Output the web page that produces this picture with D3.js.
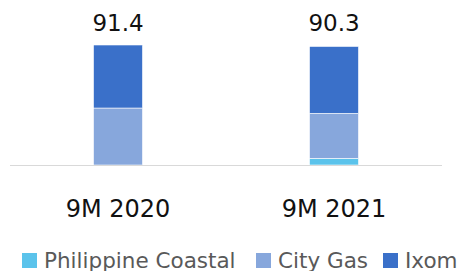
<!DOCTYPE html>
<html>
<head>
<meta charset="utf-8">
<script src="https://cdn.jsdelivr.net/npm/d3@7"></script>
<style>
  html, body { margin: 0; padding: 0; background: #fff; }
  svg { display: block; }
  text { font-family: "DejaVu Sans", sans-serif; }
</style>
</head>
<body>
<svg id="chart" width="457" height="271"></svg>
<script>
const categories = ['9M 2020', '9M 2021'];
const seriesNames = ['Philippine Coastal', 'City Gas', 'Ixom'];
const philippineCoastal = [0, 5.0];
const cityGas = [43.4, 34.3];
const ixom = [48.0, 51.0];
const totals = [91.4, 90.3];

const colors = ['#5bc3eb', '#87a7dc', '#3a70c9'];

const svg = d3.select('#chart');
const baseY = 165;
const left = 10, right = 442;

const rows = categories.map((c, i) => ({
  cat: c,
  'Philippine Coastal': philippineCoastal[i],
  'City Gas': cityGas[i],
  'Ixom': ixom[i],
  total: totals[i]
}));

const x = d3.scaleBand().domain(categories).range([left, right]).padding(0);
const barW = 49;
const y = d3.scaleLinear().domain([0, 91.4]).range([baseY, 45]);

const stack = d3.stack().keys(seriesNames)(rows);

const color = d3.scaleOrdinal().domain(seriesNames).range(colors);

svg.append('g')
  .selectAll('g')
  .data(stack)
  .join('g')
  .attr('fill', (d) => color(d.key))
  .selectAll('rect')
  .data((d) => d)
  .join('rect')
  .attr('x', (d) => x(d.data.cat) + x.bandwidth() / 2 - barW / 2)
  .attr('y', (d) => y(d[1]))
  .attr('width', barW)
  .attr('height', (d) => Math.max(0, y(d[0]) - y(d[1])))
  .attr('stroke', '#fff')
  .attr('stroke-width', 0.6);

// baseline
svg.append('line')
  .attr('x1', left).attr('x2', right)
  .attr('y1', baseY + 0.5).attr('y2', baseY + 0.5)
  .attr('stroke', '#d9d9d9')
  .attr('stroke-width', 1);

// totals
svg.append('g')
  .selectAll('text')
  .data(rows)
  .join('text')
  .attr('x', (d) => x(d.cat) + x.bandwidth() / 2)
  .attr('y', 31)
  .attr('text-anchor', 'middle')
  .attr('font-size', 23)
  .attr('fill', '#111')
  .text((d) => d.total.toFixed(1));

// category labels
const xAxis = svg.append('g')
  .attr('transform', `translate(0,${baseY})`)
  .call(d3.axisBottom(x).tickSize(0).tickPadding(0));
xAxis.select('.domain').remove();
xAxis.selectAll('text')
  .attr('y', 52)
  .attr('dy', 0)
  .attr('font-size', 24)
  .attr('font-family', '"DejaVu Sans", sans-serif')
  .attr('fill', '#111');

// legend
const legendItems = [
  { name: 'Philippine Coastal', x: 22 },
  { name: 'City Gas', x: 256 },
  { name: 'Ixom', x: 383 }
];
const lg = svg.append('g').selectAll('g')
  .data(legendItems)
  .join('g')
  .attr('transform', (d) => `translate(${d.x},253)`);
lg.append('rect')
  .attr('width', 15).attr('height', 15)
  .attr('fill', (d) => color(d.name));
lg.append('text')
  .attr('x', 22)
  .attr('y', 14.5)
  .attr('font-size', 21.5)
  .attr('fill', '#595959')
  .text((d) => d.name);
</script>
</body>
</html>
